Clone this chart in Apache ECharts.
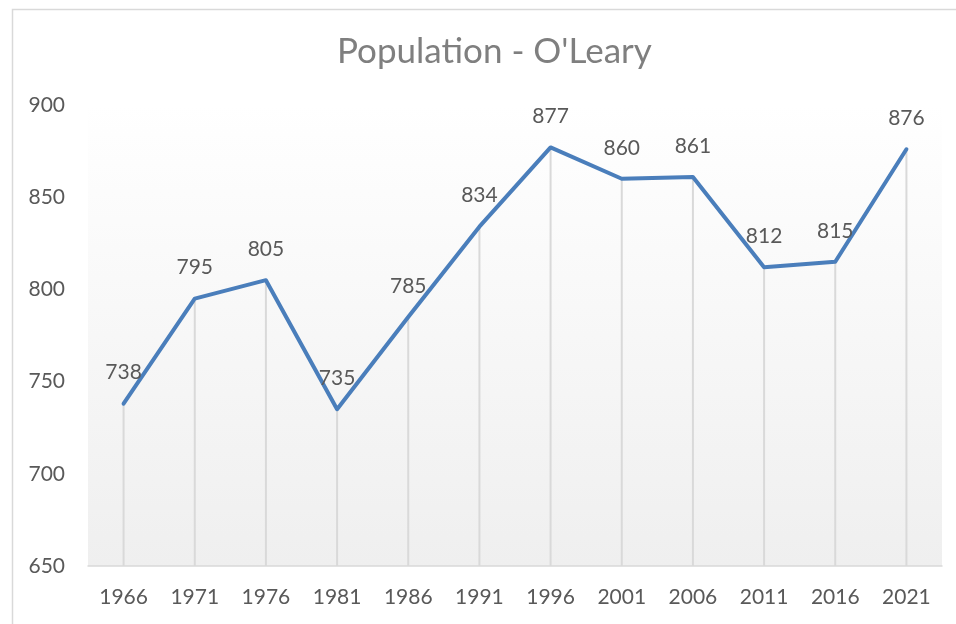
<!DOCTYPE html>
<html><head><meta charset="utf-8">
<script src="https://cdn.jsdelivr.net/npm/echarts@6/dist/echarts.min.js"></script>
<style>html,body{margin:0;padding:0;background:#fff}#c{width:956px;height:624px}</style>
</head><body><div id="c"></div>
<script>
const years = ['1966','1971','1976','1981','1986','1991','1996','2001','2006','2011','2016','2021'];
const population = [738,795,805,735,785,834,877,860,861,812,815,876];
const yMin = 650, yMax = 900, yStep = 50;
const titleText = "Population - O'Leary";

const font = 'Lato, "Liberation Sans", sans-serif';
const chart = echarts.init(document.getElementById('c'));
chart.setOption({
  animation: false,
  title: { text: titleText, left: 332, top: 29, textStyle: { fontFamily: font, fontSize: 35, fontWeight: 'normal', color: '#7f7f7f' } },
  graphic: [{ type: 'rect', left: 10, top: 7, shape: { width: 960, height: 640 }, style: { fill: 'none', stroke: '#d9d9d9', lineWidth: 1.5 }, silent: true }],
  grid: { left: 88, right: 14, top: 105, bottom: 58, show: true, borderWidth: 0,
    backgroundColor: { type: 'linear', x: 0, y: 0, x2: 0, y2: 1, colorStops: [{ offset: 0, color: '#ffffff' }, { offset: 1, color: '#efefef' }] } },
  xAxis: { type: 'category', data: years, boundaryGap: true,
    axisLine: { lineStyle: { color: '#d9d9d9', width: 1.5 } }, axisTick: { show: false },
    axisLabel: { color: '#595959', fontFamily: font, fontSize: 21, margin: 21 } },
  yAxis: { type: 'value', min: yMin, max: yMax, interval: yStep,
    splitLine: { show: false }, axisLine: { show: false }, axisTick: { show: false },
    axisLabel: { color: '#595959', fontFamily: font, fontSize: 21, margin: 23 } },
  series: [
    { type: 'bar', data: population, barWidth: 2, silent: true, itemStyle: { color: '#d9d9d9' }, z: 1 },
    { type: 'line', data: population, symbol: 'circle', symbolSize: 1, showSymbol: true, z: 3,
      itemStyle: { color: '#4a7ebb', opacity: 0 },
      lineStyle: { color: '#4a7ebb', width: 4, cap: 'round', join: 'round' },
      label: { show: true, position: 'top', distance: 20, color: '#595959', fontFamily: font, fontSize: 21, opacity: 1 },
      labelLayout: { hideOverlap: false } }
  ]
});
</script></body></html>
